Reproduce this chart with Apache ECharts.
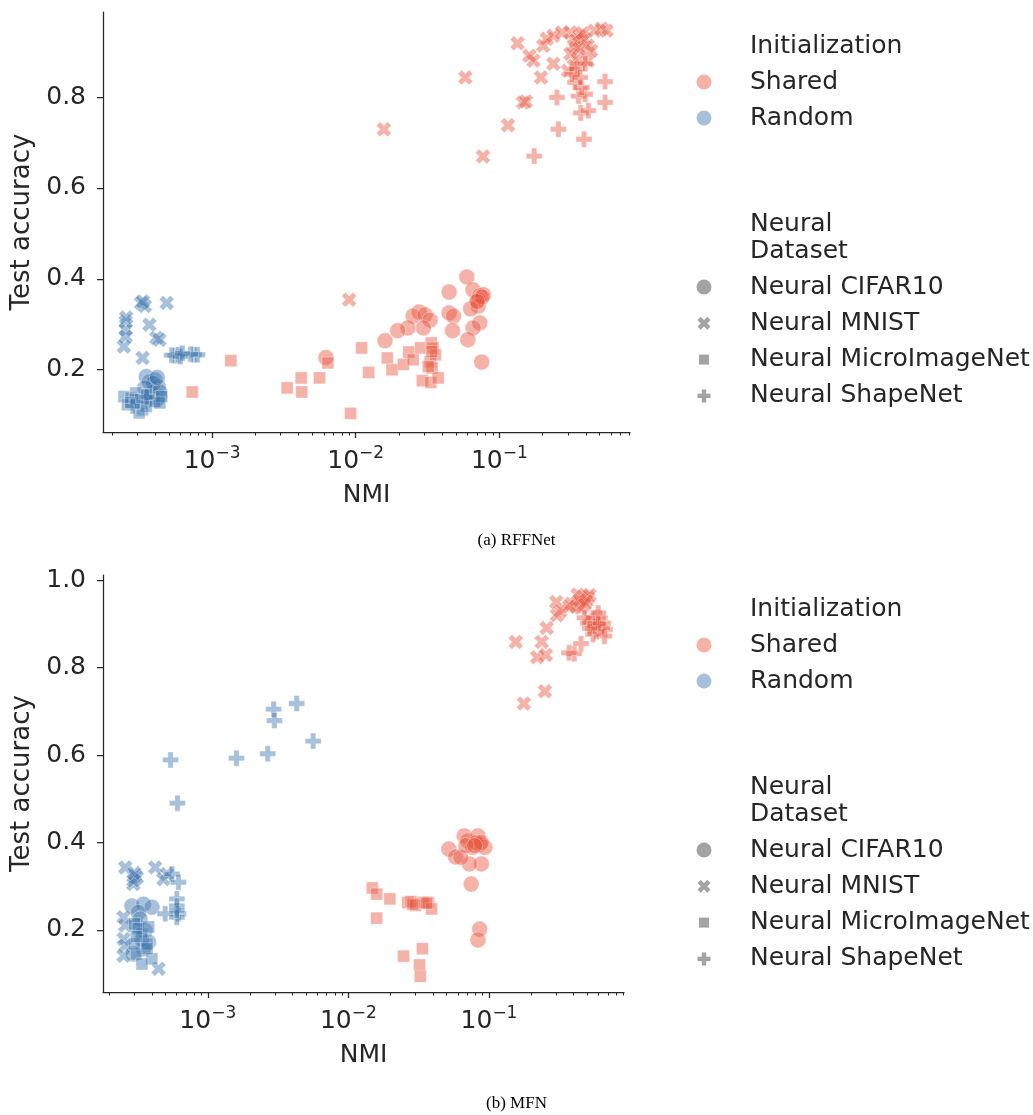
<!DOCTYPE html>
<html>
<head>
<meta charset="UTF-8">
<title>NMI vs test accuracy</title>
<script src="https://cdn.jsdelivr.net/npm/echarts@6/dist/echarts.min.js"></script>
<style>
  html, body { margin: 0; padding: 0; background: #fff; }
  #chart { width: 1033px; height: 1115px; }
</style>
</head>
<body>
<div id="chart"></div>
<script>
// legend categories
var inits = ['Shared', 'Random'];
var datasets = ['Neural CIFAR10', 'Neural MNIST', 'Neural MicroImageNet', 'Neural ShapeNet'];
var captions = ['(a) RFFNet', '(b) MFN'];

// tick labels (x is NMI on a log scale)
var xTickExps = [-3, -2, -1];
var yTicksA = [0.2, 0.4, 0.6, 0.8];
var yTicksB = [0.2, 0.4, 0.6, 0.8, 1.0];

// ---- (a) RFFNet : [NMI, test accuracy] ----
var rffSharedCifar = [[0.0594,0.404],[0.0447,0.371],[0.0656,0.376],[0.0732,0.363],[0.0774,0.365],[0.0713,0.354],
  [0.0713,0.340],[0.0631,0.334],[0.0447,0.325],[0.0480,0.318],[0.0732,0.303],[0.0656,0.292],[0.0472,0.286],
  [0.0604,0.266],[0.0754,0.217],[0.0277,0.327],[0.0251,0.318],[0.0304,0.321],[0.0330,0.309],[0.0296,0.292],
  [0.0231,0.292],[0.0196,0.286],[0.0160,0.264],[0.0062,0.227],[0.0760,0.360],[0.0700,0.350]];
var rffSharedMnist = [[0.134,0.918],[0.058,0.843],[0.0157,0.729],[0.0090,0.354],[0.077,0.669],[0.115,0.738],
  [0.146,0.788],[0.153,0.790],[0.195,0.843],[0.173,0.880],[0.162,0.891],[0.202,0.913],[0.214,0.928],[0.238,0.873],
  [0.238,0.935],[0.273,0.942],[0.313,0.942],[0.340,0.924],[0.330,0.913],[0.360,0.935],[0.391,0.928],[0.413,0.913],
  [0.460,0.946],[0.514,0.950],[0.558,0.946],[0.313,0.895],[0.350,0.884],[0.413,0.880],[0.436,0.902],[0.360,0.906],
  [0.300,0.858],[0.330,0.869],[0.380,0.940]];
var rffSharedMicro = [[0.00135,0.220],[0.000727,0.151],[0.00333,0.160],[0.00417,0.182],[0.00421,0.151],[0.0056,0.182],
  [0.0064,0.215],[0.0092,0.104],[0.0110,0.248],[0.0123,0.194],[0.0166,0.226],[0.0179,0.200],[0.0215,0.212],
  [0.0234,0.239],[0.0251,0.222],[0.0283,0.248],[0.0291,0.176],[0.0336,0.259],[0.0345,0.248],[0.0333,0.172],
  [0.0330,0.218],[0.0359,0.233],[0.0340,0.204],[0.0375,0.182],[0.0320,0.207],[0.0338,0.240]];
var rffSharedShape = [[0.545,0.834],[0.545,0.788],[0.252,0.799],[0.258,0.729],[0.389,0.707],[0.175,0.670],
  [0.369,0.765],[0.417,0.770],[0.356,0.802],[0.396,0.806],[0.375,0.821],[0.337,0.832],[0.320,0.850],[0.347,0.862],
  [0.396,0.873],[0.365,0.843]];
var rffRandomCifar = [[0.000348,0.185],[0.000398,0.178],[0.000366,0.174],[0.000421,0.163],[0.000432,0.141],
  [0.000377,0.149],[0.000348,0.141],[0.000409,0.134],[0.00039,0.170],[0.00043,0.152],[0.00034,0.160],[0.000415,0.183]];
var rffRandomMnist = [[0.000250,0.306],[0.000250,0.288],[0.000250,0.273],[0.000243,0.251],[0.000366,0.299],
  [0.000409,0.270],[0.000328,0.226],[0.000320,0.347],[0.000340,0.340],[0.000483,0.347],[0.000430,0.266],
  [0.000252,0.315],[0.000330,0.350]];
var rffRandomMicro = [[0.000243,0.141],[0.000272,0.138],[0.000294,0.149],[0.000320,0.127],[0.000328,0.112],
  [0.000366,0.134],[0.000398,0.130],[0.000445,0.141],[0.000257,0.123],[0.000348,0.119],[0.000432,0.127],
  [0.00031,0.105],[0.00029,0.135],[0.00035,0.145],[0.00027,0.128]];
var rffRandomShape = [[0.000553,0.231],[0.000584,0.233],[0.000748,0.233],[0.000790,0.233],[0.000523,0.232],
  [0.000708,0.234],[0.000600,0.229],[0.00062,0.236],[0.00030,0.130],[0.00035,0.140],[0.00028,0.120]];

// ---- (b) MFN : [NMI, test accuracy] ----
var mfnSharedCifar = [[0.0518,0.385],[0.0579,0.367],[0.0667,0.415],[0.0706,0.404],[0.0768,0.389],[0.0835,0.415],
  [0.0859,0.396],[0.0883,0.351],[0.0726,0.351],[0.0631,0.366],[0.0935,0.389],[0.0747,0.305],[0.0859,0.202],
  [0.0835,0.177],[0.0812,0.400],[0.0686,0.393],[0.0880,0.400],[0.0790,0.393]];
var mfnSharedMnist = [[0.155,0.859],[0.177,0.718],[0.250,0.746],[0.237,0.859],[0.220,0.824],[0.254,0.829],
  [0.257,0.891],[0.304,0.920],[0.301,0.950],[0.322,0.929],[0.386,0.946],[0.415,0.940],[0.427,0.967],[0.464,0.963],
  [0.505,0.960],[0.519,0.966],[0.491,0.952],[0.451,0.937],[0.371,0.940],[0.440,0.955],[0.480,0.945]];
var mfnSharedMicro = [[0.0148,0.296],[0.0159,0.282],[0.0197,0.271],[0.0264,0.263],[0.0279,0.265],[0.0300,0.256],
  [0.0340,0.263],[0.0370,0.263],[0.0391,0.248],[0.0159,0.227],[0.0247,0.140],[0.0336,0.157],[0.0321,0.120],
  [0.0325,0.094],[0.0287,0.259],[0.0360,0.261]];
var mfnSharedShape = [[0.404,0.832],[0.451,0.855],[0.371,0.834],[0.535,0.906],[0.615,0.914],[0.650,0.902],
  [0.668,0.887],[0.662,0.872],[0.580,0.883],[0.565,0.914],[0.505,0.902],[0.598,0.925],[0.477,0.914],[0.640,0.891],
  [0.550,0.876],[0.565,0.895],[0.600,0.900],[0.520,0.890]];
var mfnRandomCifar = [[0.000289,0.255],[0.000349,0.259],[0.000401,0.252],[0.000321,0.240],[0.000359,0.198],
  [0.000379,0.172],[0.000349,0.157],[0.000313,0.210],[0.000340,0.179],[0.000296,0.145],[0.00033,0.225]];
var mfnRandomMnist = [[0.000259,0.343],[0.000305,0.324],[0.000313,0.320],[0.000296,0.305],[0.000423,0.343],
  [0.000512,0.328],[0.000484,0.316],[0.000252,0.229],[0.000259,0.210],[0.000252,0.179],[0.000259,0.164],
  [0.000252,0.141],[0.000447,0.111],[0.000296,0.313],[0.00030,0.330]];
var mfnRandomMicro = [[0.000301,0.214],[0.00034,0.191],[0.00037,0.168],[0.00031,0.145],[0.00040,0.134],
  [0.00034,0.122],[0.00037,0.157],[0.0003,0.168],[0.00032,0.203],[0.00038,0.207],[0.00031,0.185]];
var mfnRandomShape = [[0.00294,0.705],[0.00298,0.679],[0.00429,0.718],[0.00562,0.632],[0.00267,0.603],
  [0.00160,0.593],[0.000544,0.589],[0.000609,0.490],[0.000556,0.328],[0.000619,0.309],[0.000603,0.271],
  [0.000603,0.255],[0.000619,0.237],[0.000498,0.237],[0.000603,0.229],[0.000603,0.245]];

var panelData = [
  [[rffSharedCifar, rffSharedMnist, rffSharedMicro, rffSharedShape],
   [rffRandomCifar, rffRandomMnist, rffRandomMicro, rffRandomShape]],
  [[mfnSharedCifar, mfnSharedMnist, mfnSharedMicro, mfnSharedShape],
   [mfnRandomCifar, mfnRandomMnist, mfnRandomMicro, mfnRandomShape]]
];

// ---- styling ----
var FONT = 'DejaVu Sans';
var INK = '#262626';
var initColors = ['#e8543e', '#3d76ad'];
var ALPHA = 0.45;
// matplotlib filled 'X' and 'P' marker outlines
var X_VERTS = [[1,0],[2,1],[3,0],[4,1],[3,2],[4,3],[3,4],[2,3],[1,4],[0,3],[1,2],[0,1]];
var P_VERTS = [[2,0],[4,0],[4,2],[6,2],[6,4],[4,4],[4,6],[2,6],[2,4],[0,4],[0,2],[2,2]];
function toPath(v) {
  return 'path://M' + v.map(function (p) { return p[0] + ',' + p[1]; }).join(' L') + ' Z';
}
function toPoints(v, span, cx, cy, size) {
  return v.map(function (p) { return [cx - size / 2 + p[0] / span * size, cy - size / 2 + p[1] / span * size]; });
}
var symbols = ['circle', toPath(X_VERTS), 'rect', toPath(P_VERTS)];
var symbolSizes = [16, 15, 12, 16];

// layout of the two panels
var grids = [
  { left: 103, top: 12, width: 527, height: 420, xMin: -3.76, xMax: -0.09, yMin: 0.063, yMax: 0.987, yTicks: yTicksA, dy: 0 },
  { left: 103, top: 575, width: 521, height: 417, xMin: -3.745, xMax: -0.04, yMin: 0.058, yMax: 1.012, yTicks: yTicksB, dy: 563 }
];

function minorTicks(lo, hi) {
  var out = [];
  for (var e = -4; e <= 0; e++) {
    for (var k = 2; k <= 9; k++) {
      var v = e + Math.log10(k);
      if (v >= lo && v <= hi) out.push(v);
    }
  }
  return out;
}

var option = {
  backgroundColor: '#fff',
  animation: false,
  textStyle: { fontFamily: FONT },
  title: [],
  grid: [],
  xAxis: [],
  yAxis: [],
  series: [],
  graphic: []
};

grids.forEach(function (g, p) {
  option.grid.push({ left: g.left, top: g.top, width: g.width, height: g.height, containLabel: false });
  // major ticks + labels
  option.xAxis.push({
    type: 'value', gridIndex: p, min: g.xMin, max: g.xMax, position: 'bottom',
    name: 'NMI', nameLocation: 'middle', nameGap: 51,
    nameTextStyle: { fontSize: 25, color: INK, fontFamily: FONT },
    splitLine: { show: false },
    axisLine: { show: true, lineStyle: { color: INK, width: 1.25 } },
    axisTick: { show: true, customValues: xTickExps, length: 6, lineStyle: { color: INK, width: 1.25 } },
    axisLabel: {
      customValues: xTickExps, margin: 13, color: INK,
      formatter: function (v) { return '{b|10}{s|\u2212' + Math.abs(Math.round(v)) + '}'; },
      rich: {
        b: { fontSize: 25, fontFamily: FONT, color: INK, lineHeight: 32 },
        s: { fontSize: 17, fontFamily: FONT, color: INK, lineHeight: 20, verticalAlign: 'top' }
      }
    }
  });
  // minor ticks
  option.xAxis.push({
    type: 'value', gridIndex: p, min: g.xMin, max: g.xMax, position: 'bottom',
    splitLine: { show: false }, axisLine: { show: false }, axisLabel: { show: false },
    axisTick: { show: true, customValues: minorTicks(g.xMin, g.xMax), length: 3.5, lineStyle: { color: INK, width: 1 } }
  });
  option.yAxis.push({
    type: 'value', gridIndex: p, min: g.yMin, max: g.yMax,
    name: 'Test accuracy', nameLocation: 'middle', nameGap: 49,
    nameTextStyle: { fontSize: 26, color: INK, fontFamily: FONT },
    splitLine: { show: false },
    axisLine: { show: true, lineStyle: { color: INK, width: 1.25 } },
    axisTick: { show: true, customValues: g.yTicks, length: 6, lineStyle: { color: INK, width: 1.25 } },
    axisLabel: {
      customValues: g.yTicks, margin: 17, fontSize: 25, color: INK, fontFamily: FONT,
      formatter: function (v) { return v.toFixed(1); }
    }
  });

  // scatter series: one per (initialization, dataset)
  inits.forEach(function (init, i) {
    datasets.forEach(function (ds, d) {
      option.series.push({
        type: 'scatter', name: init + ' / ' + ds,
        xAxisIndex: p * 2, yAxisIndex: p,
        symbol: symbols[d], symbolSize: symbolSizes[d],
        itemStyle: { color: initColors[i], opacity: ALPHA, borderColor: '#fff', borderWidth: 0.8 },
        emphasis: { disabled: true }, silent: true,
        data: panelData[p][i][d].map(function (pt) { return [Math.log10(pt[0]), pt[1]]; })
      });
    });
  });

  // caption under each panel
  option.title.push({
    text: captions[p], left: 'center', top: 532 + g.dy, padding: 0,
    textStyle: { fontFamily: 'Liberation Serif', fontSize: 17, fontWeight: 'normal', color: '#000' }
  });

  // legend (seaborn style: hue block then style block)
  var mx = 704, tx = 750, dy = g.dy;
  var txt = function (s, y) {
    return { type: 'text', x: tx, y: y + dy, style: { text: s, fontSize: 25, fontFamily: FONT, fill: INK, verticalAlign: 'middle', lineHeight: 27 } };
  };
  option.graphic.push(txt('Initialization', 46));
  inits.forEach(function (init, i) {
    var y = 82 + i * 36;
    option.graphic.push({ type: 'circle', shape: { cx: mx, cy: y + dy, r: 7.5 }, style: { fill: initColors[i], opacity: ALPHA } });
    option.graphic.push(txt(init, y));
  });
  option.graphic.push(txt('Neural\nDataset', 237.5));
  var gray = '#333';
  datasets.forEach(function (ds, d) {
    var y = 287 + d * 36.3;
    var el;
    if (d === 0) el = { type: 'circle', shape: { cx: mx, cy: y + dy, r: 7.5 } };
    else if (d === 2) el = { type: 'rect', shape: { x: mx - 5, y: y + dy - 5, width: 10, height: 10 } };
    else el = { type: 'polygon', shape: { points: d === 1 ? toPoints(X_VERTS, 4, mx, y + dy, 13) : toPoints(P_VERTS, 6, mx, y + dy, 13) } };
    el.style = { fill: gray, opacity: ALPHA };
    option.graphic.push(el);
    option.graphic.push(txt(ds, y));
  });
});

var chart = echarts.init(document.getElementById('chart'), null, { renderer: 'canvas' });
chart.setOption(option);
</script>
</body>
</html>
